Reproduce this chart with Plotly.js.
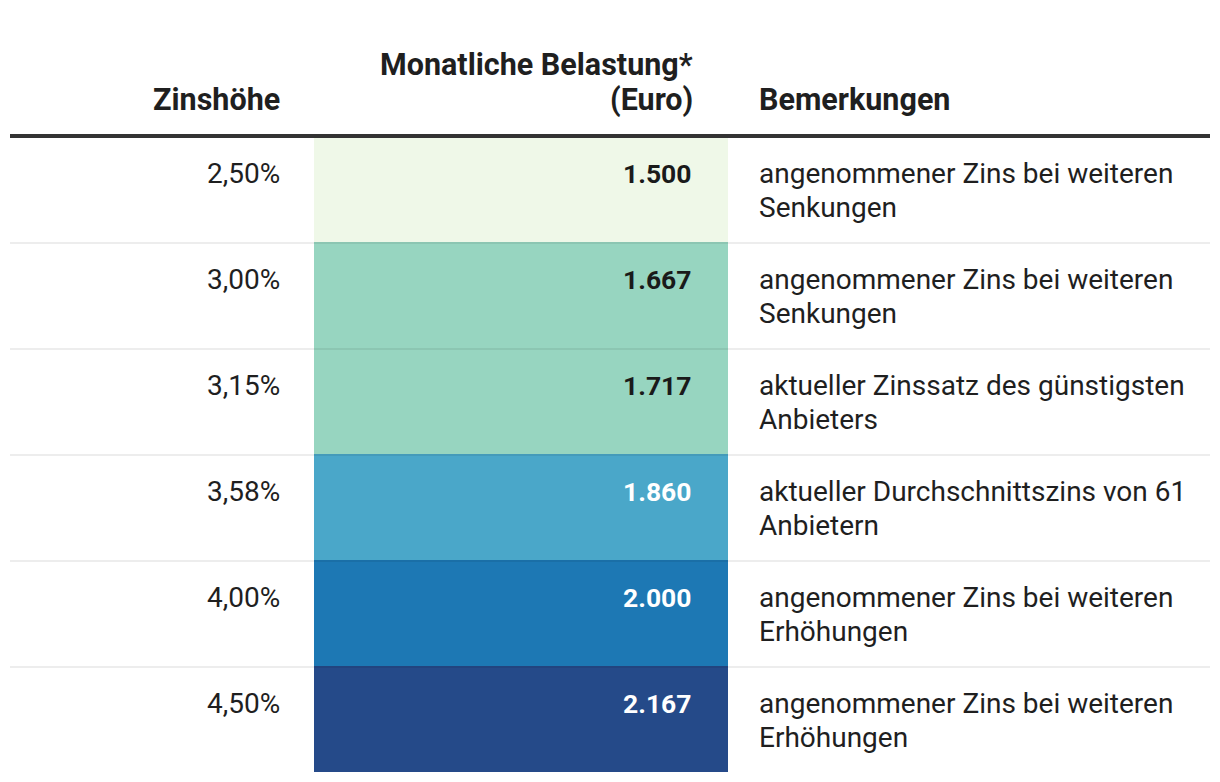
<!DOCTYPE html>
<html>
<head>
<meta charset="utf-8">
<script src="https://cdn.plot.ly/plotly-3.0.1.min.js"></script>
<style>
  html, body { margin: 0; padding: 0; background: #fff; }
  #chart { width: 1220px; height: 782px; }
</style>
</head>
<body>
<div id="chart"></div>
<script>
// ---- data ----
const headers = ['Zinshöhe', 'Monatliche Belastung*<br>(Euro)', 'Bemerkungen'];
const zinssaetze = [2.50, 3.00, 3.15, 3.58, 4.00, 4.50];
const belastung = [1500, 1667, 1717, 1860, 2000, 2167];
const bemerkungen = [
  'angenommener Zins bei weiteren<br>Senkungen',
  'angenommener Zins bei weiteren<br>Senkungen',
  'aktueller Zinssatz des günstigsten<br>Anbieters',
  'aktueller Durchschnittszins von 61<br>Anbietern',
  'angenommener Zins bei weiteren<br>Erhöhungen',
  'angenommener Zins bei weiteren<br>Erhöhungen'
];

// ---- styles / layout constants ----
const cellColors = ['#eff8e8', '#97d5c0', '#97d5c0', '#4aa7c9', '#1d78b4', '#254a89'];
const valueTextColors = ['#1a1a1a', '#1a1a1a', '#1a1a1a', '#ffffff', '#ffffff', '#ffffff'];
const W = 1220, H = 782;
const FS_HEAD = 30.5, FS_BODY = 28, FS_VAL = 26.5;
const TEXT = '#1f1f1f';
const rowStart = 136, rowH = 106;
const colRateRight = 282;
const colValLeft = 314, colValRight = 728, colValTextRight = 694;
const colNoteLeft = 757;
const tableLeft = 10, tableRight = 1210;
const headerLineY = 136;
const lineStep = 34;

const fmtRate = v => v.toFixed(2).replace('.', ',') + '%';
const fmtVal = v => v.toLocaleString('de-DE');

const n = belastung.length;
const idx = belastung.map((_, i) => i);
const rowTop = i => rowStart + i * rowH;
// top of annotation box so that first baseline lands at given y
const topFor = (baseline, fs) => baseline - 2 - 0.928 * fs;

const cells = {
  type: 'bar',
  orientation: 'h',
  y: idx.map(i => rowTop(i) + rowH / 2),
  x: idx.map(() => colValRight - colValLeft),
  base: colValLeft,
  width: rowH,
  marker: { color: cellColors, line: { width: 0 } },
  hoverinfo: 'none',
  showlegend: false
};

const annotations = [];
function addText(x, baseline, text, anchor, fs, bold, color) {
  annotations.push({
    x: x, y: topFor(baseline, fs), xref: 'x', yref: 'y', showarrow: false,
    xanchor: anchor, yanchor: 'top', align: anchor,
    text: bold ? '<b>' + text + '</b>' : text,
    font: { family: 'Roboto', size: fs, color: color || TEXT }
  });
}

// header
const hdrBase = 110;
addText(colRateRight, hdrBase, headers[0], 'right', FS_HEAD, true);
const h1 = headers[1].split('<br>');
h1.forEach((ln, k) => addText(colValTextRight + 1, hdrBase - (h1.length - 1 - k) * 35, ln, 'right', FS_HEAD, true));
addText(colNoteLeft, hdrBase, headers[2], 'left', FS_HEAD, true);

// body
idx.forEach(i => {
  const base = rowTop(i) + 47;
  addText(colRateRight, base, fmtRate(zinssaetze[i]), 'right', FS_BODY, false);
  addText(colValTextRight, base, fmtVal(belastung[i]), 'right', FS_VAL, true, valueTextColors[i]);
  bemerkungen[i].split('<br>').forEach((ln, k) =>
    addText(colNoteLeft, base + k * lineStep, ln, 'left', FS_BODY, false));
});

const shapes = [];
for (let i = 1; i < n; i++) {
  shapes.push({ type: 'line', xref: 'x', yref: 'y', x0: tableLeft, x1: tableRight,
    y0: rowTop(i) + 1, y1: rowTop(i) + 1, line: { color: 'rgba(0,0,0,0.07)', width: 2 }, layer: 'above' });
}
shapes.push({ type: 'line', xref: 'x', yref: 'y', x0: tableLeft, x1: tableRight,
  y0: headerLineY, y1: headerLineY, line: { color: '#333333', width: 4 }, layer: 'above' });

const layout = {
  width: W, height: H,
  margin: { l: 0, r: 0, t: 0, b: 0 },
  paper_bgcolor: '#ffffff', plot_bgcolor: '#ffffff',
  xaxis: { range: [0, W], visible: false, fixedrange: true },
  yaxis: { range: [H, 0], visible: false, fixedrange: true },
  showlegend: false,
  annotations: annotations,
  shapes: shapes,
  font: { family: 'Roboto', size: FS_BODY, color: TEXT }
};

Plotly.newPlot('chart', [cells], layout, { displayModeBar: false, staticPlot: true });
</script>
</body>
</html>
